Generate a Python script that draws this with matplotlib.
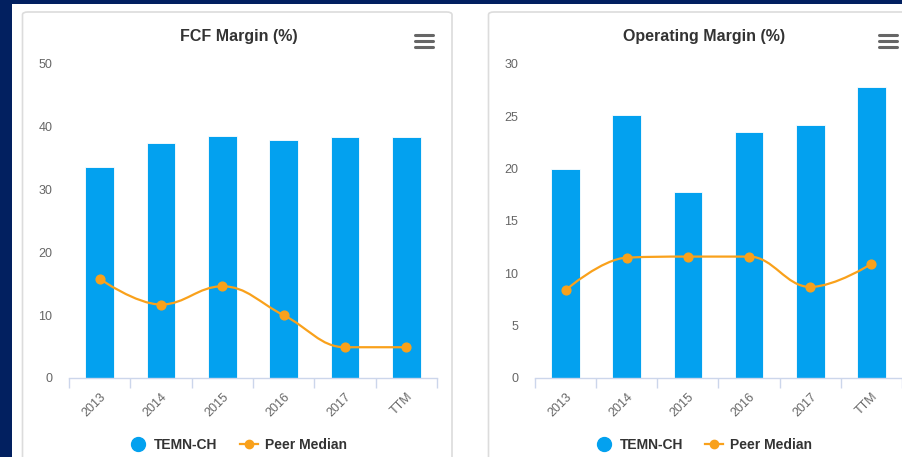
import numpy as np
import matplotlib.pyplot as plt
from matplotlib.path import Path
from matplotlib.patches import PathPatch, FancyBboxPatch, Rectangle
from matplotlib.lines import Line2D

plt.rcParams['font.family'] = ['Liberation Sans', 'DejaVu Sans']

categories = ['2013', '2014', '2015', '2016', '2017', 'TTM']
fcf_company = [33.6, 37.5, 38.6, 37.9, 38.3, 38.3]
fcf_peer = [15.8, 11.7, 14.6, 10.0, 4.9, 4.9]
op_company = [20.0, 25.1, 17.8, 23.5, 24.2, 27.8]
op_peer = [8.4, 11.5, 11.6, 11.6, 8.7, 10.9]

BAR = '#03a1ef'
LINE = '#f9a11b'
NAVY = '#022060'
W, H = 903, 457


def px(x, y):
    """pixel (from top-left) -> figure fraction"""
    return x / W, 1 - y / H


def spline_path(xs, ys, smoothing=1.5):
    """cubic bezier through the points, Highcharts-style spline"""
    n = len(xs)
    lc, rc = [], []
    for i in range(n):
        x, y = xs[i], ys[i]
        if i == 0 or i == n - 1:
            lc.append((x, y)); rc.append((x, y))
            continue
        d = smoothing + 1
        lx = (smoothing * x + xs[i - 1]) / d
        ly = (smoothing * y + ys[i - 1]) / d
        rx = (smoothing * x + xs[i + 1]) / d
        ry = (smoothing * y + ys[i + 1]) / d
        corr = (ry - ly) * (rx - x) / (rx - lx) + y - ry
        ly += corr; ry += corr
        py, ny = ys[i - 1], ys[i + 1]
        if ly > py and ly > y:
            ly = max(py, y); ry = 2 * y - ly
        elif ly < py and ly < y:
            ly = min(py, y); ry = 2 * y - ly
        if ry > ny and ry > y:
            ry = max(ny, y); ly = 2 * y - ry
        elif ry < ny and ry < y:
            ry = min(ny, y); ly = 2 * y - ry
        lc.append((lx, ly)); rc.append((rx, ry))
    verts = [(xs[0], ys[0])]
    codes = [Path.MOVETO]
    for i in range(1, n):
        verts += [rc[i - 1], lc[i], (xs[i], ys[i])]
        codes += [Path.CURVE4] * 3
    return Path(verts, codes)


fig = plt.figure(figsize=(W / 100, H / 100), dpi=100)
fig.patch.set_facecolor('white')

# navy frame strips
fig.patches.append(Rectangle((0, 0), 12 / W, 1, transform=fig.transFigure,
                             facecolor=NAVY, edgecolor='none', zorder=-3))
fig.patches.append(Rectangle(px(0, 4), 1, 4 / H, transform=fig.transFigure,
                             facecolor=NAVY, edgecolor='none', zorder=-3))

# chart panels
for x0, x1 in [(22.5, 452), (488.5, 930)]:
    l, t = px(x0, 12)
    r, b = px(x1, 480)
    fig.patches.append(FancyBboxPatch((l, b), r - l, t - b,
                                      boxstyle='round,pad=0,rounding_size=0.006',
                                      transform=fig.transFigure, facecolor='white',
                                      edgecolor='#dcdcdc', linewidth=1.2, zorder=-2))


def draw(left_px, right_px, title, comp, peer, ymax, ystep, menu_x):
    l, _ = px(left_px, 0)
    r, _ = px(right_px, 0)
    _, b = px(0, 378)
    _, t = px(0, 64)
    ax = fig.add_axes([l, b, r - l, t - b])
    ax.set_facecolor('none')
    x = np.arange(len(categories))
    ax.bar(x, comp, width=0.47, color=BAR, edgecolor='white', linewidth=0.6, zorder=2)
    ax.add_patch(PathPatch(spline_path(list(x), peer), facecolor='none',
                           edgecolor=LINE, linewidth=1.6, zorder=3))
    ax.plot(x, peer, 'o', color=LINE, markersize=6.3, zorder=4, clip_on=False)
    ax.set_xlim(-0.5, len(categories) - 0.5)
    ax.set_ylim(0, ymax)
    ax.set_yticks(np.arange(0, ymax + 0.1, ystep))
    ax.set_xticks(x)
    ax.set_xticklabels(categories, rotation=45, ha='right', va='top',
                       rotation_mode='anchor')
    ax.set_xticks(np.arange(-0.5, len(categories)), minor=True)
    ax.tick_params(axis='x', which='major', length=0, pad=9, labelsize=9,
                   labelcolor='#666666')
    ax.tick_params(axis='x', which='minor', length=7.5, width=1, color='#ccd6eb')
    ax.tick_params(axis='y', length=0, pad=12, labelsize=9, labelcolor='#666666')
    for s in ['top', 'right', 'left']:
        ax.spines[s].set_visible(False)
    ax.spines['bottom'].set_color('#ccd6eb')
    ax.spines['bottom'].set_linewidth(1)

    cx = (left_px + right_px) / 2
    fig.text(*px(cx - 14, 36), title, ha='center', va='center', fontsize=11.5,
             fontweight='bold', color='#333333')
    # menu icon
    for yy in (34.5, 40.5, 46.5):
        fig.add_artist(Line2D([menu_x / W, (menu_x + 18) / W], [1 - yy / H] * 2,
                              color='#666666', linewidth=2.2,
                              solid_capstyle='round'))

    handles = [Line2D([], [], marker='o', color=BAR, linestyle='none', markersize=10),
               Line2D([], [], marker='o', color=LINE, linewidth=1.6, markersize=6)]
    fig.legend(handles, ['TEMN-CH', 'Peer Median'], loc='center',
               bbox_to_anchor=px(cx - 15, 445), ncol=2, frameon=False,
               prop={'weight': 'bold', 'size': 10}, handlelength=1.3,
               handletextpad=0.5, columnspacing=1.6, labelcolor='#333333')
    return ax


draw(69, 437, 'FCF Margin (%)', fcf_company, fcf_peer, 50, 10, 415)
draw(535, 902, 'Operating Margin (%)', op_company, op_peer, 30, 5, 879)

fig.savefig('out.png', dpi=100)
